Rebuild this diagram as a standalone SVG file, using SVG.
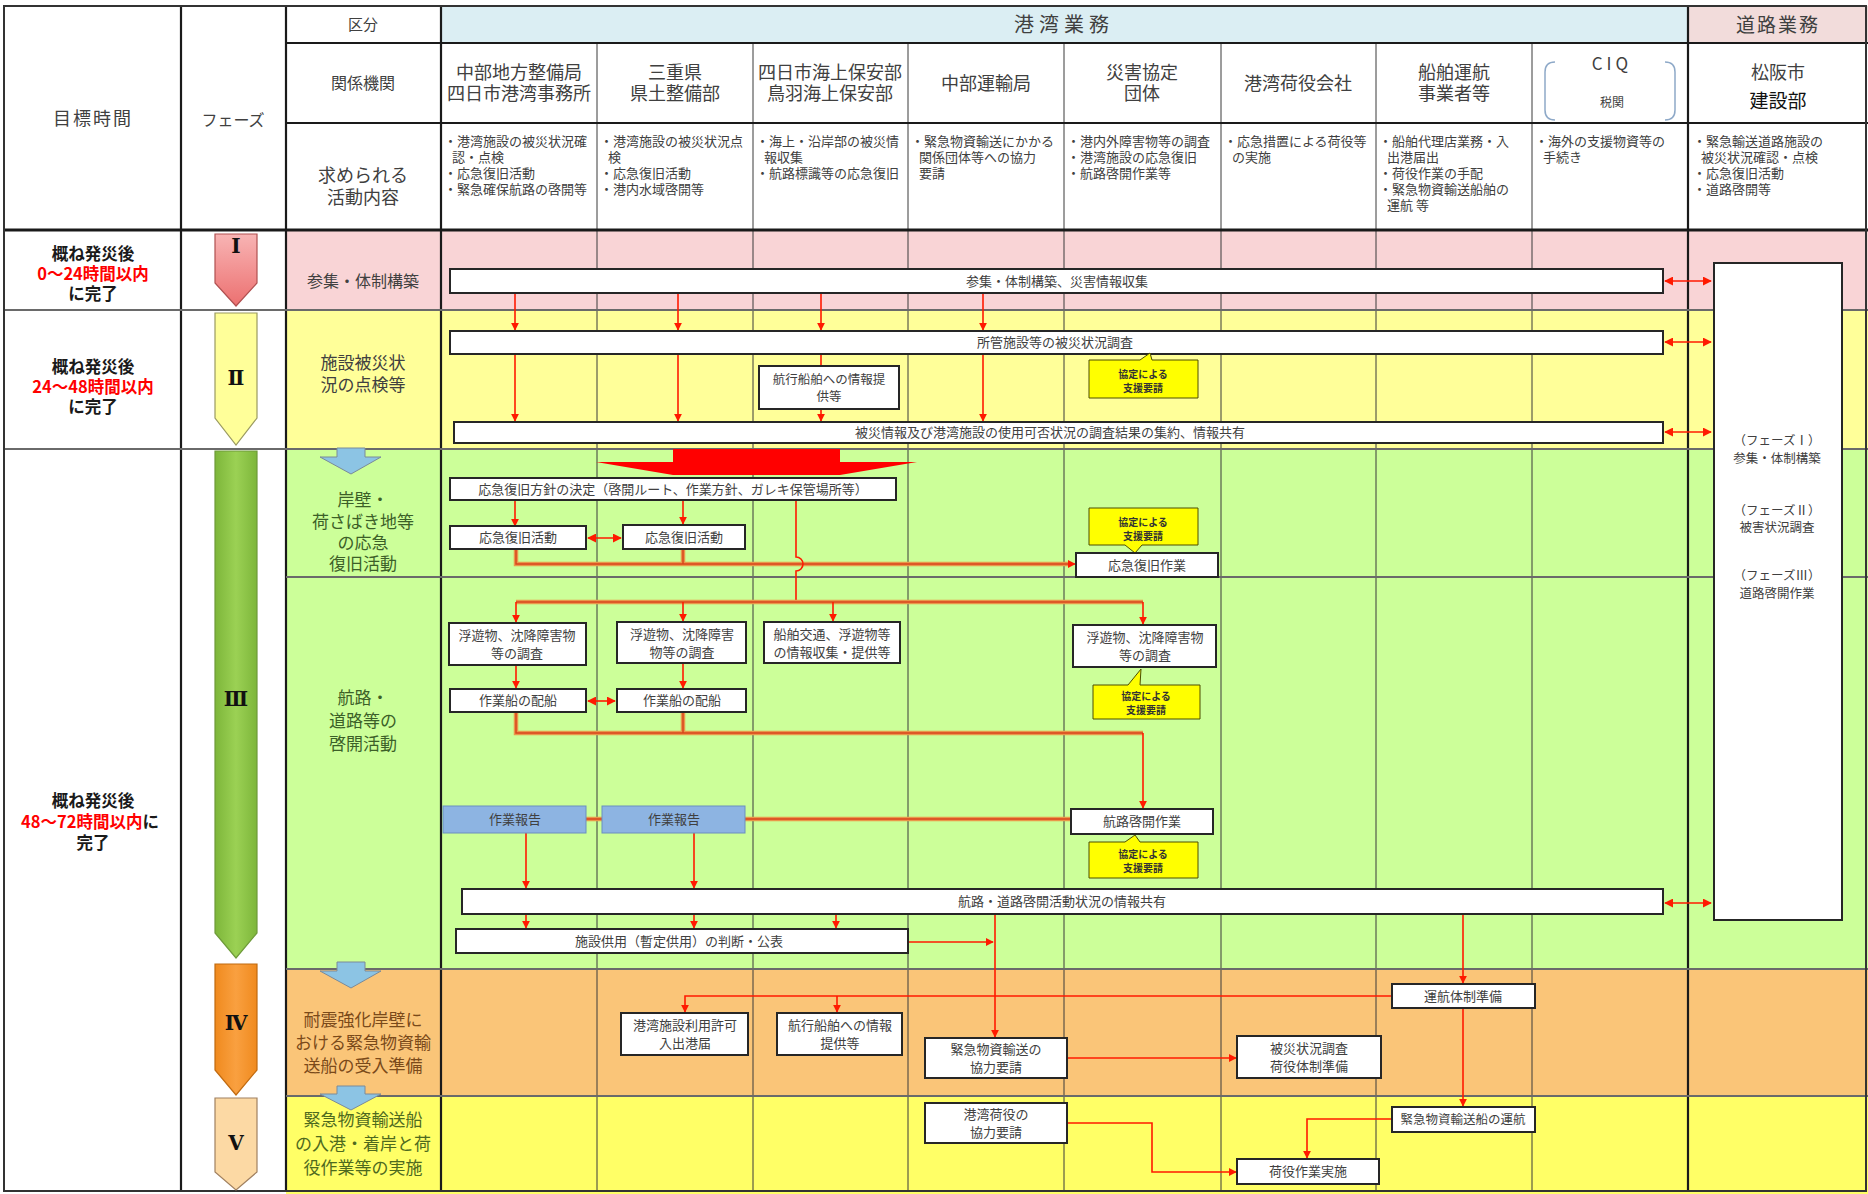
<svg xmlns="http://www.w3.org/2000/svg" width="1868" height="1194" viewBox="0 0 1868 1194">
<defs>
<marker id="ah" viewBox="0 0 10 10" refX="9" refY="5" markerWidth="8" markerHeight="8" markerUnits="userSpaceOnUse" orient="auto"><path d="M0,0 L10,5 L0,10 z" fill="#ff1a00"/></marker>
<marker id="ah2" viewBox="0 0 10 10" refX="9" refY="5" markerWidth="9" markerHeight="9" markerUnits="userSpaceOnUse" orient="auto-start-reverse"><path d="M0,0 L10,5 L0,10 z" fill="#ff1a00"/></marker>
<linearGradient id="gI" x1="0" y1="0" x2="0" y2="1"><stop offset="0" stop-color="#f8b4b4"/><stop offset="1" stop-color="#ec7070"/></linearGradient>
<linearGradient id="gIII" x1="0" y1="0" x2="1" y2="0"><stop offset="0" stop-color="#7db63a"/><stop offset="0.5" stop-color="#9bd154"/><stop offset="1" stop-color="#7db63a"/></linearGradient>
<linearGradient id="gIV" x1="0" y1="0" x2="1" y2="0"><stop offset="0" stop-color="#f08a1e"/><stop offset="0.5" stop-color="#f9a040"/><stop offset="1" stop-color="#f08a1e"/></linearGradient>
</defs>
<style>
.t{font-family:"Noto Sans CJK JP","Noto Sans",sans-serif;fill:#404040;text-anchor:middle}
.s{font-size:13px}
.hd{font-size:18px}
.act{font-size:13px;text-anchor:start}
.lt{font-size:16.5px;font-weight:bold;fill:#1a1a1a}
.red{fill:#ff0000}
.cat{font-size:17px}
.rn{font-family:"DejaVu Serif","Liberation Serif",serif;font-weight:bold;font-size:20px;fill:#111;text-anchor:middle}
.box{fill:#fff;stroke:#262626;stroke-width:2}
.bl{fill:#8db4e2;stroke:#6a8fbf;stroke-width:1}
.co{fill:#ffff00;stroke:#4d4d00;stroke-width:1}
.cot{font-size:10px;font-weight:bold;fill:#333}
.ar{stroke:#ff1a00;stroke-width:1.6;fill:none}
.arm{marker-end:url(#ah)}
.da{marker-start:url(#ah2);marker-end:url(#ah2)}
.ob{stroke:#e9974a;stroke-width:4.5;fill:none}
.oi{stroke:#d9441c;stroke-width:1.5;fill:none}
.g{stroke:#3a3a3a;stroke-width:1;fill:none}
.gh{stroke:#1a1a1a;stroke-width:2.2;fill:none}
.gp{stroke:#6a6a6a;stroke-width:2;fill:none}
.pa{stroke-width:1.2}
.ba{fill:#8cc4e4;stroke:#7a8a99;stroke-width:1}
</style>

<g id="backgrounds">
<rect x="0" y="0" width="1868" height="1194" fill="#fff"/>
<rect x="441" y="6" width="1247" height="37" fill="#dbeef3"/>
<rect x="1688" y="6" width="180" height="37" fill="#f2dcdb"/>
<rect x="286" y="230" width="1582" height="80" fill="#f9d4d6"/>
<rect x="286" y="310" width="1582" height="139" fill="#ffff99"/>
<rect x="286" y="449" width="1582" height="520" fill="#ccff99"/>
<rect x="286" y="969" width="1582" height="127" fill="#fac578"/>
<rect x="286" y="1096" width="1582" height="98" fill="#ffff66"/>
</g>

<g id="grid">
<path class="g" d="M597,43V1191 M753,43V1191 M908,43V1191 M1064,43V1191 M1221,43V1191 M1376,43V1191 M1532,43V1191"/>
<path class="gh" d="M181,6V1191 M286,6V1191 M441,6V1191 M1688,6V1191"/>
<path class="gh" d="M286,43H1868 M286,123H1868"/>
<path class="gh" d="M4,230H1868" style="stroke-width:3"/>
<path class="gp" d="M4,310H1868 M4,449H1868 M286,577H1868 M286,969H1868 M286,1096H1868"/>
<rect x="4" y="6" width="1862" height="1185" fill="none" stroke="#333" stroke-width="2"/>
</g>

<g id="header">
<text class="t" x="93" y="125" style="font-size:18px;letter-spacing:2px">目標時間</text>
<text class="t" x="233" y="126" style="font-size:16px">フェーズ</text>
<text class="t" x="363" y="30" style="font-size:15px">区分</text>
<text class="t" x="1064" y="32" style="font-size:20px;letter-spacing:5px">港湾業務</text>
<text class="t" x="1778" y="32" style="font-size:19px;letter-spacing:2px">道路業務</text>
<text class="t" x="363" y="89" style="font-size:16px">関係機関</text>
<text class="t hd" x="519" y="79">中部地方整備局</text>
<text class="t hd" x="519" y="100">四日市港湾事務所</text>
<text class="t hd" x="675" y="79">三重県</text>
<text class="t hd" x="675" y="100">県土整備部</text>
<text class="t hd" x="830" y="79">四日市海上保安部</text>
<text class="t hd" x="830" y="100">鳥羽海上保安部</text>
<text class="t hd" x="986" y="90">中部運輸局</text>
<text class="t hd" x="1142" y="79">災害協定</text>
<text class="t hd" x="1142" y="100">団体</text>
<text class="t hd" x="1298" y="90">港湾荷役会社</text>
<text class="t hd" x="1454" y="79">船舶運航</text>
<text class="t hd" x="1454" y="100">事業者等</text>
<text class="t" x="1612" y="70" style="font-size:17px;letter-spacing:4px">CIQ</text>
<path d="M1555,62 Q1545,62 1545,72 V110 Q1545,120 1555,120 M1665,62 Q1675,62 1675,72 V110 Q1675,120 1665,120" fill="none" stroke="#8ea9c8" stroke-width="1.5"/>
<text class="t" x="1612" y="107" style="font-size:12px">税関</text>
<text class="t hd" x="1778" y="79">松阪市</text>
<text class="t" x="1778" y="108" style="font-size:19px;fill:#111">建設部</text>
<text class="t" x="363" y="182" style="font-size:18px">求められる</text>
<text class="t" x="363" y="204" style="font-size:18px">活動内容</text>
</g>

<g id="activities" class="t act">
<text x="444" y="146"><tspan x="444">・港湾施設の被災状況確</tspan><tspan x="452" dy="16">認・点検</tspan><tspan x="444" dy="16">・応急復旧活動</tspan><tspan x="444" dy="16">・緊急確保航路の啓開等</tspan></text>
<text x="600" y="146"><tspan x="600">・港湾施設の被災状況点</tspan><tspan x="608" dy="16">検</tspan><tspan x="600" dy="16">・応急復旧活動</tspan><tspan x="600" dy="16">・港内水域啓開等</tspan></text>
<text x="756" y="146"><tspan x="756">・海上・沿岸部の被災情</tspan><tspan x="764" dy="16">報収集</tspan><tspan x="756" dy="16">・航路標識等の応急復旧</tspan></text>
<text x="911" y="146"><tspan x="911">・緊急物資輸送にかかる</tspan><tspan x="919" dy="16">関係団体等への協力</tspan><tspan x="919" dy="16">要請</tspan></text>
<text x="1067" y="146"><tspan x="1067">・港内外障害物等の調査</tspan><tspan x="1067" dy="16">・港湾施設の応急復旧</tspan><tspan x="1067" dy="16">・航路啓開作業等</tspan></text>
<text x="1224" y="146"><tspan x="1224">・応急措置による荷役等</tspan><tspan x="1232" dy="16">の実施</tspan></text>
<text x="1379" y="146"><tspan x="1379">・船舶代理店業務・入</tspan><tspan x="1387" dy="16">出港届出</tspan><tspan x="1379" dy="16">・荷役作業の手配</tspan><tspan x="1379" dy="16">・緊急物資輸送船舶の</tspan><tspan x="1387" dy="16">運航 等</tspan></text>
<text x="1535" y="146"><tspan x="1535">・海外の支援物資等の</tspan><tspan x="1543" dy="16">手続き</tspan></text>
<text x="1693" y="146"><tspan x="1693">・緊急輸送道路施設の</tspan><tspan x="1701" dy="16">被災状況確認・点検</tspan><tspan x="1693" dy="16">・応急復旧活動</tspan><tspan x="1693" dy="16">・道路啓開等</tspan></text>
</g>

<g id="time-I" class="t">
<text class="lt" x="93" y="260">概ね発災後</text>
<text class="lt red" x="93" y="280">0～24時間以内</text>
<text class="lt" x="93" y="300">に完了</text>
</g>
<g id="time-II" class="t">
<text class="lt" x="93" y="373">概ね発災後</text>
<text class="lt red" x="93" y="393">24～48時間以内</text>
<text class="lt" x="93" y="413">に完了</text>
</g>
<g id="time-III" class="t">
<text class="lt" x="93" y="807">概ね発災後</text>
<text class="lt" x="90" y="828"><tspan class="red">48～72時間以内</tspan>に</text>
<text class="lt" x="93" y="849">完了</text>
</g>

<g id="phase-I"><path d="M215,234H257V283L236,306L215,283Z" fill="url(#gI)" stroke="#b05050" class="pa"/><text class="rn" x="236" y="253">Ⅰ</text></g>
<g id="phase-II"><path d="M215,313H257V418L236,445L215,418Z" fill="#ffff99" stroke="#9a9a60" class="pa"/><text class="rn" x="236" y="385">Ⅱ</text></g>
<g id="phase-III"><path d="M215,451H257V933L236,958L215,933Z" fill="url(#gIII)" stroke="#6e9a3a" class="pa"/><text class="rn" x="236" y="706">Ⅲ</text></g>
<g id="phase-IV"><path d="M215,964H257V1070L236,1095L215,1070Z" fill="url(#gIV)" stroke="#c06a10" class="pa"/><text class="rn" x="236" y="1030">Ⅳ</text></g>
<g id="phase-V"><path d="M215,1098H257V1172L236,1190L215,1172Z" fill="#fcd9a4" stroke="#a08060" class="pa"/><text class="rn" x="236" y="1150">Ⅴ</text></g>

<g id="cat-I" class="t"><text x="363" y="287" style="font-size:16px">参集・体制構築</text></g>
<g id="cat-II" class="t cat"><text x="363" y="369">施設被災状</text><text x="363" y="391">況の点検等</text></g>
<g id="cat-IIIa" class="t cat" style="fill:#3c5f28"><text x="363" y="506">岸壁・</text><text x="363" y="528">荷さばき地等</text><text x="363" y="549">の応急</text><text x="363" y="570">復旧活動</text></g>
<g id="cat-IIIb" class="t cat" style="fill:#3c5f28"><text x="363" y="704">航路・</text><text x="363" y="727">道路等の</text><text x="363" y="750">啓開活動</text></g>
<g id="cat-IV" class="t cat" style="fill:#7a4a1a"><text x="363" y="1026">耐震強化岸壁に</text><text x="363" y="1049">おける緊急物資輸</text><text x="363" y="1072">送船の受入準備</text></g>
<g id="cat-V" class="t cat" style="fill:#4e6a1e"><text x="363" y="1126">緊急物資輸送船</text><text x="363" y="1150">の入港・着岸と荷</text><text x="363" y="1174">役作業等の実施</text></g>
<g id="blue-arrows">
<path class="ba" d="M337,448H365V457H381L351,474L320,457H337Z"/>
<path class="ba" d="M337,962H365V971H381L351,988L320,971H337Z"/>
<path class="ba" d="M337,1086H365V1094H381L351,1110L320,1094H337Z"/>
</g>

<g id="connectors">
<path class="ar arm" d="M515,293V330"/>
<path class="ar arm" d="M678,293V330"/>
<path class="ar arm" d="M821,293V330"/>
<path class="ar arm" d="M983,293V330"/>
<path class="ar arm" d="M515,354V421"/>
<path class="ar arm" d="M678,354V421"/>
<path class="ar arm" d="M983,354V421"/>
<path class="ar" d="M821,354V366"/>
<path class="ar arm" d="M821,409V421"/>
<path class="ar da" d="M1665,281H1711"/>
<path class="ar da" d="M1665,342H1711"/>
<path class="ar da" d="M1665,432H1711"/>
<path class="ar da" d="M1665,903H1711"/>
<path class="ar arm" d="M515,500V526"/>
<path class="ar arm" d="M683,500V524"/>
<path class="ar da" d="M588,538H621"/>
<path class="ar da" d="M588,701H615"/>
<path class="ob" d="M516,549V564H1070 M683,549V564"/>
<path class="oi" d="M683,549V564"/>
<path class="oi arm" d="M516,549V564H1075"/>
<path class="ar" d="M796,500V557A7,7 0 0 1 796,571V602"/>
<path class="ob" d="M516,602H1143"/>
<path class="oi" d="M516,602H1143"/>
<path class="ar arm" d="M516,602V622"/>
<path class="ar arm" d="M683,602V621"/>
<path class="ar arm" d="M833,602V621"/>
<path class="ar arm" d="M1143,602V624"/>
<path class="ar arm" d="M516,665V688"/>
<path class="ar arm" d="M683,663V688"/>
<path class="ob" d="M516,712V733H1143 M683,712V733"/>
<path class="oi" d="M516,712V733H1143 M683,712V733"/>
<path class="ar arm" d="M1143,733V808"/>
<path class="ob" d="M586,819H602 M745,819H1071"/>
<path class="oi" d="M586,819H602 M745,819H1071"/>
<path class="ar arm" d="M526,833V888"/>
<path class="ar arm" d="M694,833V888"/>
<path class="ar arm" d="M526,914V928"/>
<path class="ar arm" d="M694,914V928"/>
<path class="ar arm" d="M836,914V928"/>
<path class="ar arm" d="M995,914V1037"/>
<path class="ar arm" d="M908,942H993"/>
<path class="ar arm" d="M1463,914V983"/>
<path class="ar arm" d="M1463,1008V1106"/>
<path class="ar arm" d="M1392,996H685V1012"/>
<path class="ar arm" d="M837,996V1012"/>
<path class="ar arm" d="M1067,1058H1236"/>
<path class="ar arm" d="M1067,1123H1152V1172H1236"/>
<path class="ar arm" d="M1392,1119H1307V1158"/>
</g>

<g id="n-bar1"><rect class="box" x="450" y="269" width="1213" height="24"/><text class="t s" x="1057" y="286">参集・体制構築、災害情報収集</text></g>
<g id="n-bar2"><rect class="box" x="450" y="331" width="1213" height="23"/><text class="t s" x="1055" y="347">所管施設等の被災状況調査</text></g>
<g id="n-callout1"><path class="co" d="M1089,360H1140L1150,353L1152,360H1198V398H1089Z"/><text class="t cot" x="1143" y="378">協定による</text><text class="t cot" x="1143" y="392">支援要請</text></g>
<g id="n-info1"><rect class="box" x="759" y="366" width="140" height="43"/><text class="t" x="829" y="384" style="font-size:12.5px">航行船舶への情報提</text><text class="t" x="829" y="401" style="font-size:12.5px">供等</text></g>
<g id="n-bar3"><rect class="box" x="454" y="422" width="1209" height="21"/><text class="t s" x="1050" y="437">被災情報及び港湾施設の使用可否状況の調査結果の集約、情報共有</text></g>
<g id="n-banner"><polygon points="673,449 840,449 840,462 917,462 840,475 673,475 596,462 673,462" fill="#ff0000"/></g>
<g id="n-policy"><rect class="box" x="450" y="478" width="446" height="22"/><text class="t s" x="673" y="494">応急復旧方針の決定（啓開ルート、作業方針、ガレキ保管場所等）</text></g>
<g id="n-rec1"><rect class="box" x="450" y="526" width="136" height="23"/><text class="t s" x="518" y="542">応急復旧活動</text></g>
<g id="n-rec2"><rect class="box" x="623" y="525" width="122" height="24"/><text class="t s" x="684" y="542">応急復旧活動</text></g>
<g id="n-callout2"><path class="co" d="M1089,508H1198V545H1142L1135,553L1125,545H1089Z"/><text class="t cot" x="1143" y="526">協定による</text><text class="t cot" x="1143" y="540">支援要請</text></g>
<g id="n-rec3"><rect class="box" x="1076" y="553" width="142" height="24"/><text class="t s" x="1147" y="570">応急復旧作業</text></g>
<g id="n-survey1"><rect class="box" x="449" y="623" width="137" height="42"/><text class="t s" x="517" y="640">浮遊物、沈降障害物</text><text class="t s" x="517" y="658">等の調査</text></g>
<g id="n-survey2"><rect class="box" x="617" y="622" width="129" height="41"/><text class="t s" x="682" y="639">浮遊物、沈降障害</text><text class="t s" x="682" y="657">物等の調査</text></g>
<g id="n-traffic"><rect class="box" x="764" y="622" width="136" height="41"/><text class="t s" x="832" y="639">船舶交通、浮遊物等</text><text class="t s" x="832" y="657">の情報収集・提供等</text></g>
<g id="n-survey3"><rect class="box" x="1073" y="625" width="143" height="42"/><text class="t s" x="1145" y="642">浮遊物、沈降障害物</text><text class="t s" x="1145" y="660">等の調査</text></g>
<g id="n-callout3"><path class="co" d="M1093,685H1128L1141,669L1140,685H1200V719H1093Z"/><text class="t cot" x="1146" y="700">協定による</text><text class="t cot" x="1146" y="714">支援要請</text></g>
<g id="n-ship1"><rect class="box" x="450" y="689" width="136" height="23"/><text class="t s" x="518" y="705">作業船の配船</text></g>
<g id="n-ship2"><rect class="box" x="617" y="689" width="129" height="23"/><text class="t s" x="682" y="705">作業船の配船</text></g>
<g id="n-report1"><rect class="bl" x="443" y="806" width="143" height="27"/><text class="t s" x="515" y="824">作業報告</text></g>
<g id="n-report2"><rect class="bl" x="602" y="806" width="143" height="27"/><text class="t s" x="674" y="824">作業報告</text></g>
<g id="n-channel"><rect class="box" x="1071" y="809" width="142" height="25"/><text class="t s" x="1142" y="826">航路啓開作業</text></g>
<g id="n-callout4"><path class="co" d="M1089,842H1125L1135,835L1140,842H1198V878H1089Z"/><text class="t cot" x="1143" y="858">協定による</text><text class="t cot" x="1143" y="872">支援要請</text></g>
<g id="n-bar4"><rect class="box" x="462" y="889" width="1201" height="25"/><text class="t s" x="1062" y="906">航路・道路啓開活動状況の情報共有</text></g>
<g id="n-bar5"><rect class="box" x="456" y="929" width="452" height="24"/><text class="t s" x="679" y="946">施設供用（暫定供用）の判断・公表</text></g>
<g id="n-road"><rect class="box" x="1714" y="263" width="128" height="657"/>
<text class="t" x="1777" y="445" style="font-size:12.5px">（フェーズⅠ）</text><text class="t" x="1777" y="463" style="font-size:12.5px">参集・体制構築</text>
<text class="t" x="1777" y="515" style="font-size:12.5px">（フェーズⅡ）</text><text class="t" x="1777" y="532" style="font-size:12.5px">被害状況調査</text>
<text class="t" x="1777" y="580" style="font-size:12.5px">（フェーズⅢ）</text><text class="t" x="1777" y="598" style="font-size:12.5px">道路啓開作業</text></g>
<g id="n-operate"><rect class="box" x="1392" y="984" width="143" height="24"/><text class="t s" x="1463" y="1001">運航体制準備</text></g>
<g id="n-permit"><rect class="box" x="621" y="1013" width="127" height="42"/><text class="t s" x="685" y="1030">港湾施設利用許可</text><text class="t s" x="685" y="1048">入出港届</text></g>
<g id="n-info2"><rect class="box" x="777" y="1013" width="125" height="42"/><text class="t s" x="840" y="1030">航行船舶への情報</text><text class="t s" x="840" y="1048">提供等</text></g>
<g id="n-coop1"><rect class="box" x="925" y="1038" width="142" height="40"/><text class="t s" x="996" y="1054">緊急物資輸送の</text><text class="t s" x="996" y="1072">協力要請</text></g>
<g id="n-prep"><rect class="box" x="1237" y="1036" width="144" height="42"/><text class="t s" x="1309" y="1053">被災状況調査</text><text class="t s" x="1309" y="1071">荷役体制準備</text></g>
<g id="n-coop2"><rect class="box" x="925" y="1103" width="142" height="40"/><text class="t s" x="996" y="1119">港湾荷役の</text><text class="t s" x="996" y="1137">協力要請</text></g>
<g id="n-sail"><rect class="box" x="1392" y="1107" width="143" height="25"/><text class="t" x="1463" y="1124" style="font-size:12.5px">緊急物資輸送船の運航</text></g>
<g id="n-cargo"><rect class="box" x="1237" y="1159" width="142" height="25"/><text class="t s" x="1308" y="1176">荷役作業実施</text></g>
</svg>
